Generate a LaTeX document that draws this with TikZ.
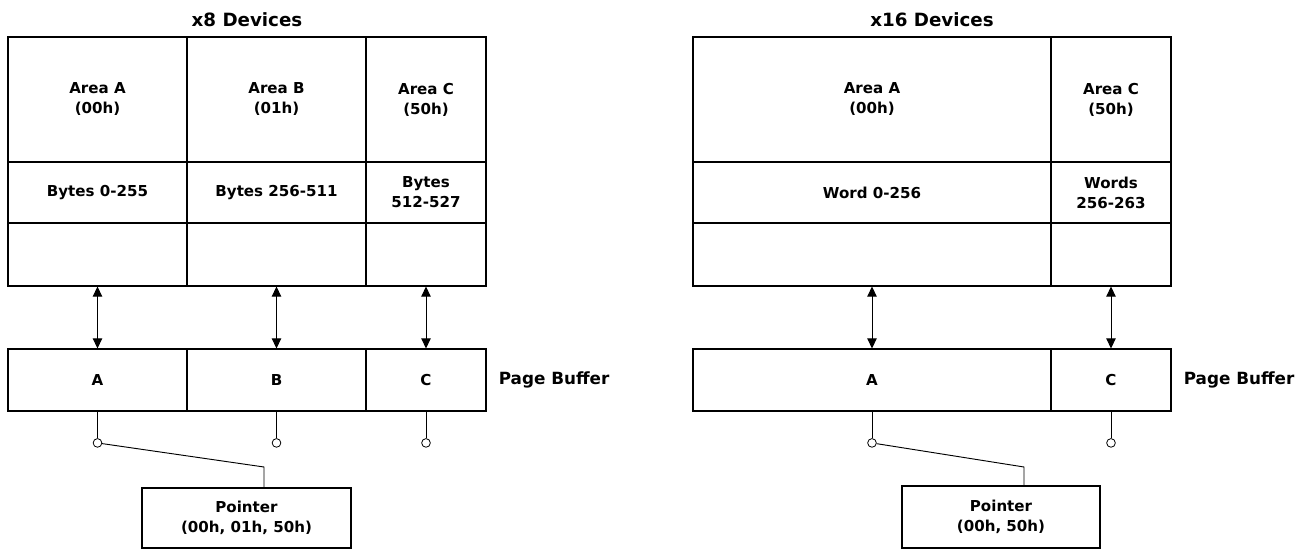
\documentclass[tikz,border=0pt]{standalone}
\usepackage{fontspec}
\setmainfont{DejaVu Sans}
\usetikzlibrary{arrows.meta,positioning}
\begin{document}
\begin{tikzpicture}[x=0.75pt,y=-0.75pt,
   cell/.style={draw,line width=0.8pt,inner sep=0pt,align=center,
      font=\bfseries\fontsize{11.3}{15}\selectfont},
   title/.style={font=\bfseries\fontsize{13.7}{16}\selectfont},
   buflabel/.style={inner sep=0pt,font=\bfseries\fontsize{12.6}{14}\selectfont},
   port/.style={circle,draw,fill=white,inner sep=0pt,minimum size=6.5pt,line width=0.6pt},
   link/.style={line width=0.7pt},
   xfer/.style={link,{Triangle[length=7.5pt,width=7pt]}-{Triangle[length=7.5pt,width=7pt]}}]
   \useasboundingbox (0,0) rectangle (1311,549);
   % x8 devices
   \node[title] (t8) at (247,20) {x8 Devices};
   \node[cell,minimum width=134.25pt,minimum height=93.75pt] (a1) at (97.5,99.5) {Area A\\(00h)};
   \node[cell,minimum width=134.25pt,minimum height=93.75pt] (b1) at (276.5,99.5) {Area B\\(01h)};
   \node[cell,minimum width=90pt,minimum height=93.75pt] (c1) at (426,99.5) {Area C\\(50h)};
   \node[cell,minimum width=134.25pt,minimum height=45.75pt] (a2) at (97.5,192.5) {Bytes 0-255};
   \node[cell,minimum width=134.25pt,minimum height=45.75pt] (b2) at (276.5,192.5) {Bytes 256-511};
   \node[cell,minimum width=90pt,minimum height=45.75pt] (c2) at (426,192.5) {Bytes\\512-527};
   \node[cell,minimum width=134.25pt,minimum height=47.25pt] (a3) at (97.5,254.5) {};
   \node[cell,minimum width=134.25pt,minimum height=47.25pt] (b3) at (276.5,254.5) {};
   \node[cell,minimum width=90pt,minimum height=47.25pt] (c3) at (426,254.5) {};
   % page buffer
   \node[cell,minimum width=134.25pt,minimum height=46.5pt] (pa) at (97.5,380) {A};
   \node[cell,minimum width=134.25pt,minimum height=46.5pt] (pb) at (276.5,380) {B};
   \node[cell,minimum width=90pt,minimum height=46.5pt] (pc) at (426,380) {C};
   \node[buflabel,anchor=west,right=9pt of pc] (buf8) {Page Buffer};
   \draw[xfer] (a3.south) -- (pa.north);
   \draw[xfer] (b3.south) -- (pb.north);
   \draw[xfer] (c3.south) -- (pc.north);
   % pointer
   \node[port,below=20pt of pa] (ca) {};
   \node[port,below=20pt of pb] (cb) {};
   \node[port,below=20pt of pc] (cc) {};
   \draw[link] (pa.south) -- (ca);
   \draw[link] (pb.south) -- (cb);
   \draw[link] (pc.south) -- (cc);
   \node[cell,minimum width=156.75pt,minimum height=45pt] (ptr8) at (246.5,518) {Pointer\\(00h, 01h, 50h)};
   \coordinate (k8) at (264,467);
   \draw[link] (ca) -- (k8) -- (k8 |- ptr8.north);

   % x16 devices
   \node[title] (t16) at (932,20) {x16 Devices};
   \node[cell,minimum width=268.5pt,minimum height=93.75pt] (wa1) at (872,99.5) {Area A\\(00h)};
   \node[cell,minimum width=90pt,minimum height=93.75pt] (wc1) at (1111,99.5) {Area C\\(50h)};
   \node[cell,minimum width=268.5pt,minimum height=45.75pt] (wa2) at (872,192.5) {Word 0-256};
   \node[cell,minimum width=90pt,minimum height=45.75pt] (wc2) at (1111,192.5) {Words\\256-263};
   \node[cell,minimum width=268.5pt,minimum height=47.25pt] (wa3) at (872,254.5) {};
   \node[cell,minimum width=90pt,minimum height=47.25pt] (wc3) at (1111,254.5) {};
   % page buffer
   \node[cell,minimum width=268.5pt,minimum height=46.5pt] (wpa) at (872,380) {A};
   \node[cell,minimum width=90pt,minimum height=46.5pt] (wpc) at (1111,380) {C};
   \node[buflabel,anchor=west,right=9pt of wpc] (buf16) {Page Buffer};
   \draw[xfer] (wa3.south) -- (wpa.north);
   \draw[xfer] (wc3.south) -- (wpc.north);
   % pointer
   \node[port,below=20pt of wpa] (wca) {};
   \node[port,below=20pt of wpc] (wcc) {};
   \draw[link] (wpa.south) -- (wca);
   \draw[link] (wpc.south) -- (wcc);
   \node[cell,minimum width=148.5pt,minimum height=46.5pt] (ptr16) at (1001,517) {Pointer\\(00h, 50h)};
   \coordinate (k16) at (1024,467);
   \draw[link] (wca) -- (k16) -- (k16 |- ptr16.north);
\end{tikzpicture}
\end{document}
